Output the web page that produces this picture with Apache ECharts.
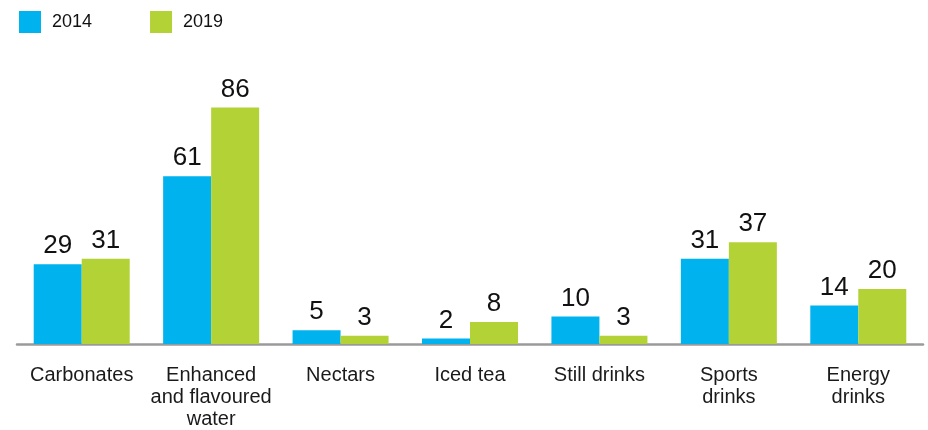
<!DOCTYPE html>
<html>
<head>
<meta charset="utf-8">
<script src="https://cdn.jsdelivr.net/npm/echarts@6/dist/echarts.min.js"></script>
<style>
  html, body { margin: 0; padding: 0; background: #fff; }
  #chart { width: 928px; height: 430px; }
</style>
</head>
<body>
<div id="chart"></div>
<script>
// Drink categories and values per year
const categories = ['Carbonates', 'Enhanced\nand flavoured\nwater', 'Nectars', 'Iced tea', 'Still drinks', 'Sports\ndrinks', 'Energy\ndrinks'];
const values2014 = [29, 61, 5, 2, 10, 31, 14];
const values2019 = [31, 86, 3, 8, 3, 37, 20];
const seriesNames = ['2014', '2019'];

const FONT = '"Liberation Sans", Arial, Helvetica, sans-serif';

const chart = echarts.init(document.getElementById('chart'));

const labelStyle = {
  show: true,
  position: 'top',
  distance: 5,
  fontSize: 26,
  fontFamily: FONT,
  color: '#111'
};

chart.setOption({
  animation: false,
  legend: {
    left: 19,
    top: 11,
    padding: 0,
    itemWidth: 22,
    itemHeight: 22,
    itemGap: 58,
    icon: 'rect',
    textStyle: { fontSize: 18, fontFamily: FONT, color: '#111', padding: [2, 0, 0, 6] },
    data: seriesNames
  },
  grid: { left: 17, right: 5, top: 69, bottom: 79, containLabel: false },
  xAxis: {
    type: 'category',
    data: categories,
    axisLine: { lineStyle: { color: '#9a9a9a', width: 2.5 } },
    axisTick: { show: false },
    axisLabel: {
      interval: 0,
      margin: 20,
      fontSize: 20,
      lineHeight: 22,
      fontFamily: FONT,
      color: '#1a1a1a',
      verticalAlign: 'top'
    }
  },
  yAxis: {
    type: 'value',
    min: 0,
    max: 100,
    show: false,
    splitLine: { show: false }
  },
  series: [
    {
      name: seriesNames[0],
      type: 'bar',
      data: values2014,
      barWidth: 48,
      barGap: '0%',
      itemStyle: { color: '#00b2ee' },
      label: labelStyle
    },
    {
      name: seriesNames[1],
      type: 'bar',
      data: values2019,
      barWidth: 48,
      itemStyle: { color: '#b3d236' },
      label: labelStyle
    }
  ]
});
</script>
</body>
</html>
